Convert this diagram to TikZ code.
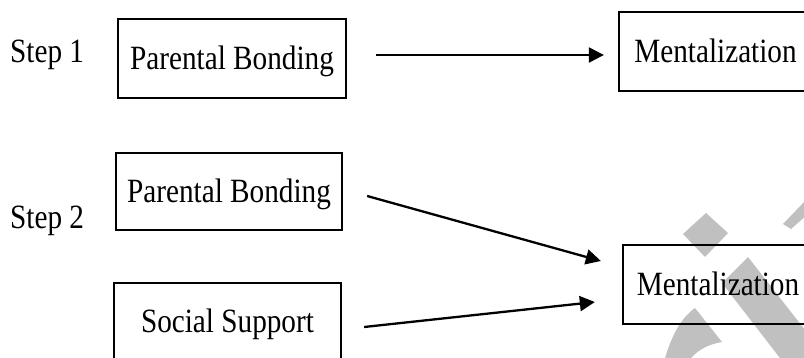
\documentclass[tikz,border=0pt]{standalone}
\usepackage{fontspec}
\setmainfont{Liberation Serif}[FakeStretch=0.86]
\usetikzlibrary{arrows.meta,calc}
\definecolor{wmgray}{HTML}{C0C0C0}
\tikzset{
  boxnode/.style={draw=black, line width=2.3pt, inner sep=0pt,
    text height=22pt, text depth=0pt, font=\fontsize{34}{40}\selectfont},
  steplabel/.style={inner sep=0pt, anchor=base west, font=\fontsize{34}{40}\selectfont},
  conn/.style={line width=2.3pt, -{Triangle[length=15pt,width=15pt]}},
  wm/.style={fill=wmgray, draw=none}
}
\begin{document}
\begin{tikzpicture}[x=1pt,y=-1pt]
\useasboundingbox (0,0) rectangle (804,358);
\begin{scope}
\clip (0,0) rectangle (804,358);
% watermark
\fill[wm] (706,213) -- (728,233) -- (705,257) -- (683,234) -- cycle;
\fill[wm] (748,257) -- (722,283) -- (783,362) -- (830,362) -- cycle;
\fill[wm] (783,224) -- (791,229) -- (808,214) -- (808,198) -- cycle;
\fill[wm] (695,308) -- (722,342) .. controls (705,345) and (695,352) .. (688,362) -- (664,362) .. controls (671,336) and (681,318) .. (695,308) -- cycle;
% nodes
\node[boxnode, minimum width=228pt, minimum height=79pt] (b1) at (232,58.5) {Parental Bonding};
\node[boxnode, minimum width=193pt, minimum height=79pt] (m1) at (715.5,51.5) {Mentalization};
\node[boxnode, minimum width=226pt, minimum height=77pt] (b2) at (229,191.5) {Parental Bonding};
\node[boxnode, minimum width=227pt, minimum height=78pt] (b3) at (227.5,322) {Social Support};
\node[boxnode, minimum width=190pt, minimum height=79pt] (m2) at (718,284.5) {Mentalization};
\node[steplabel] (s1) at (10,63) {Step 1};
\node[steplabel] (s2) at (10,229) {Step 2};
% connectors
\draw[conn] ($(b1.east)+(29,-3.5)$) -- ($(m1.west)+(-14,3.5)$);
\draw[conn] ($(b2.east)+(24,4.5)$) -- ($(m2.west)+(-21,-23.5)$);
\draw[conn] ($(b3.east)+(22,5)$) -- ($(m2.west)+(-27,17.5)$);
\end{scope}
\end{tikzpicture}
\end{document}
